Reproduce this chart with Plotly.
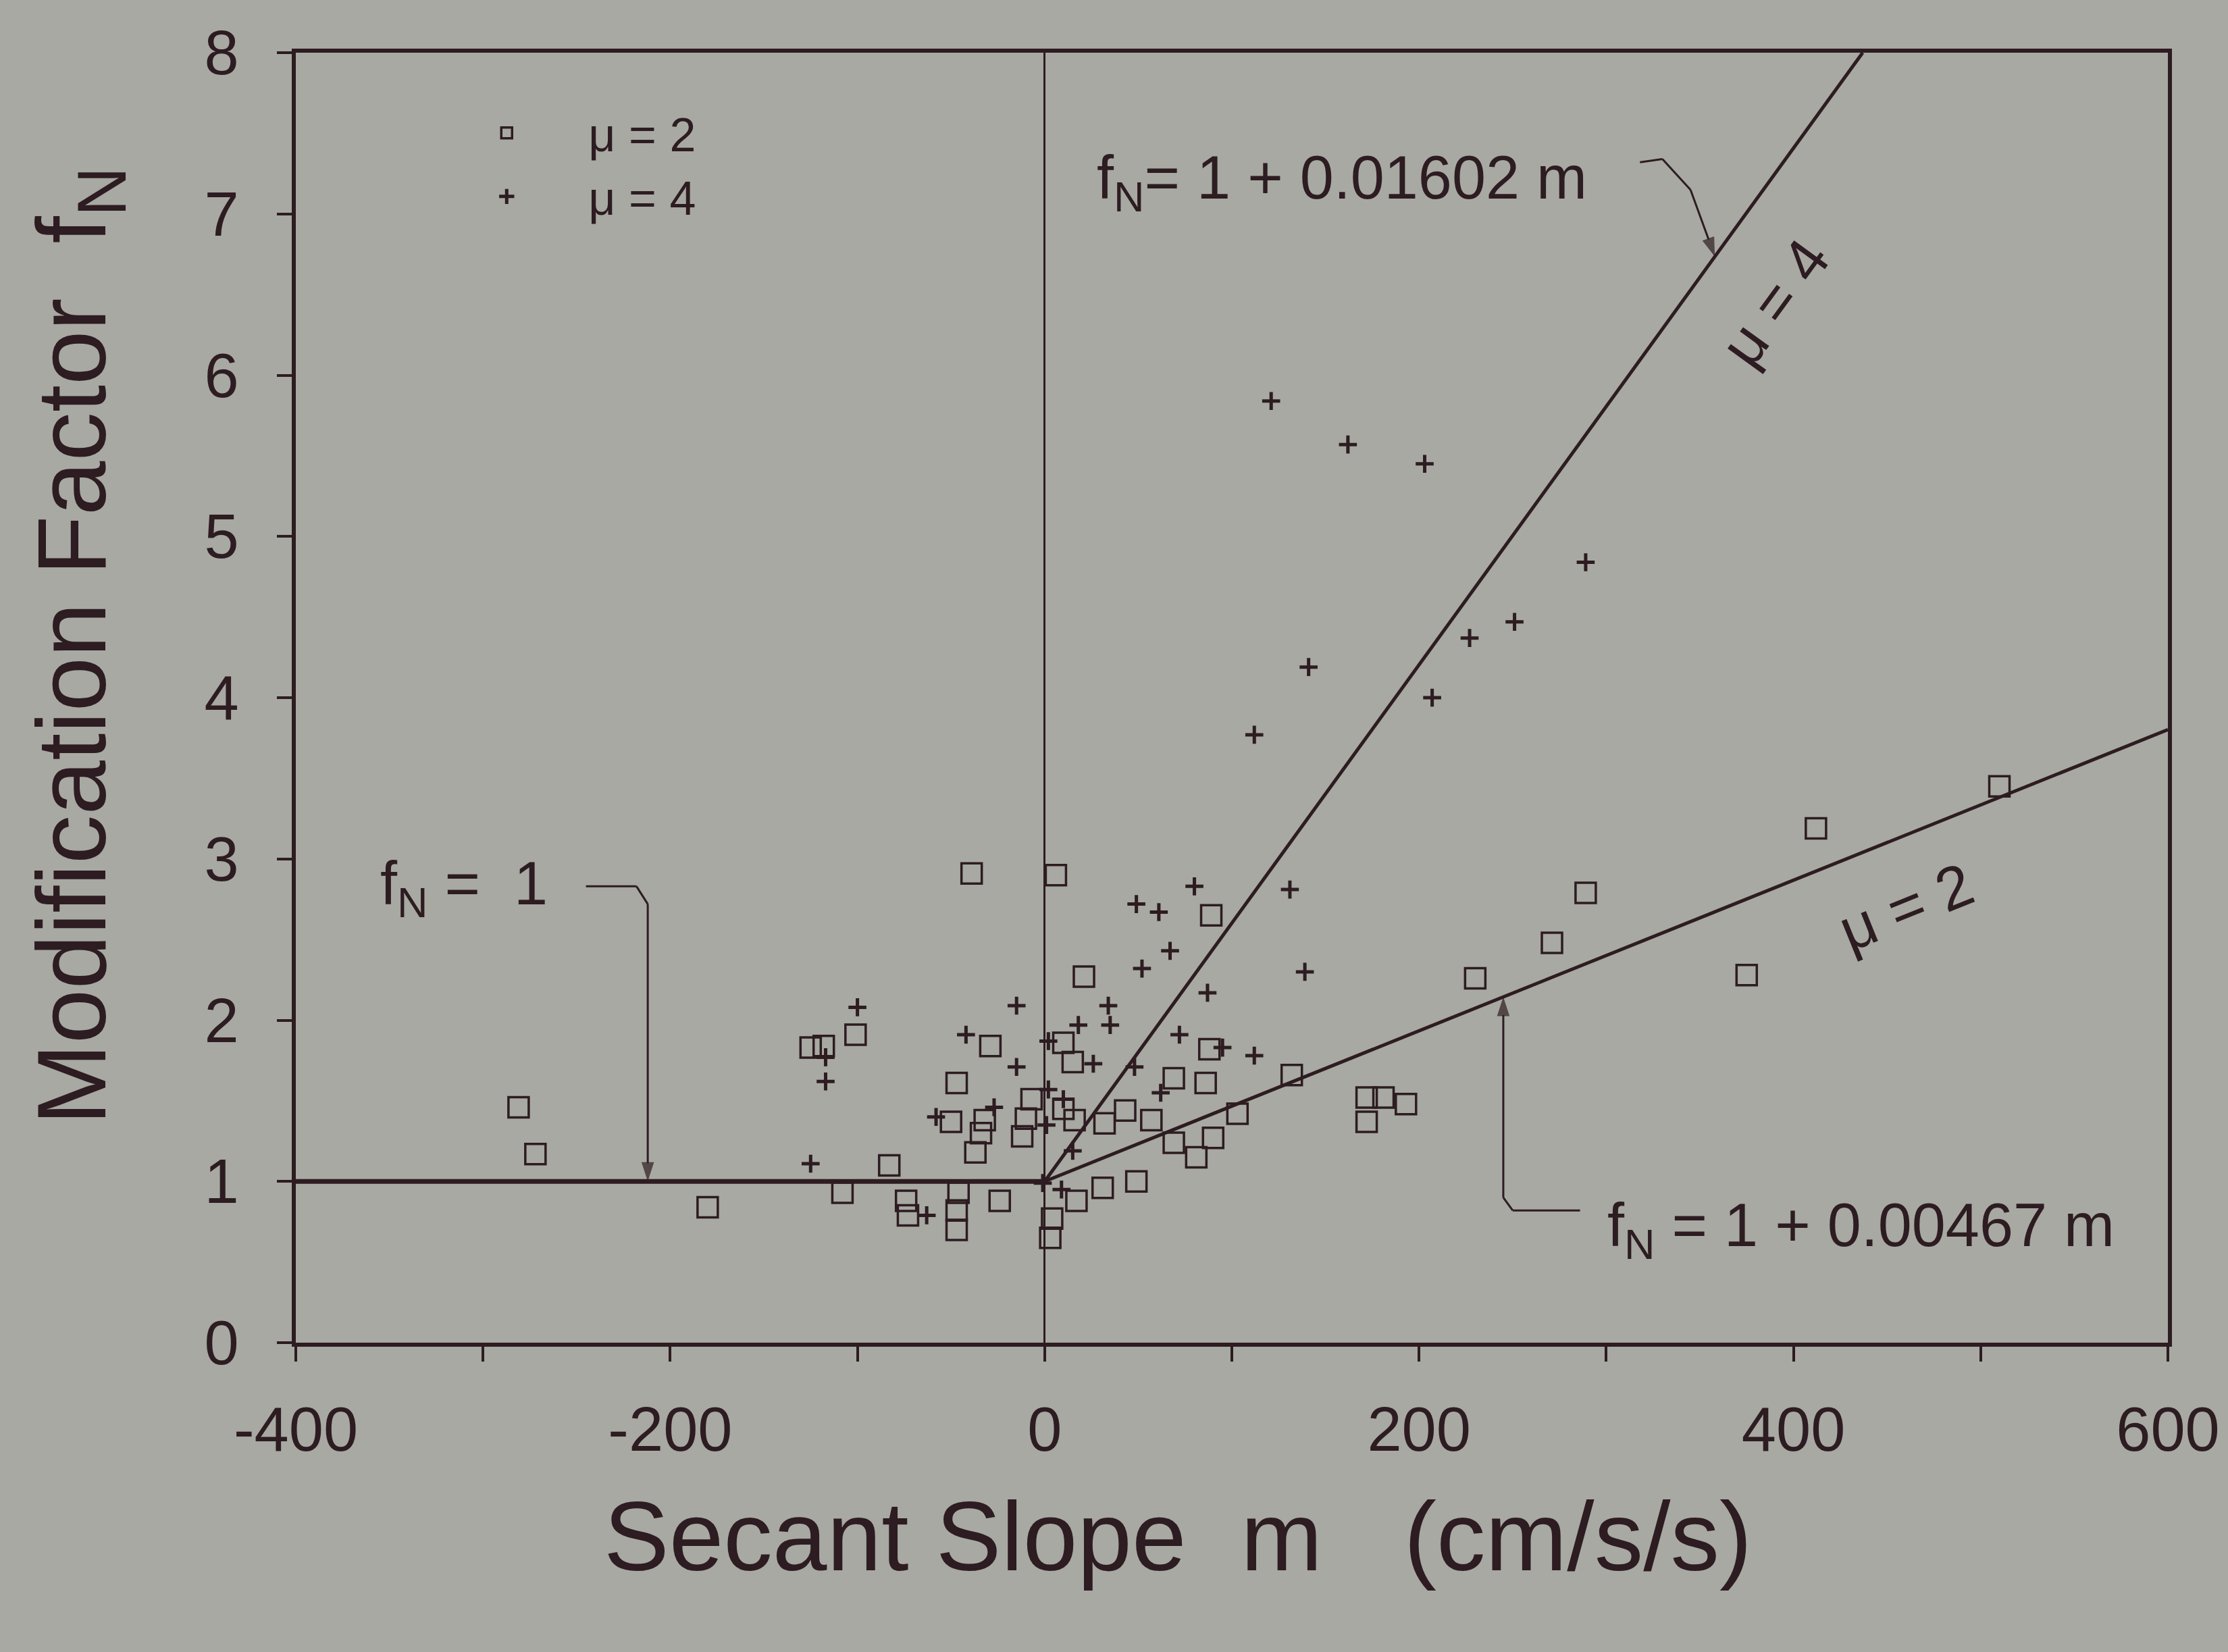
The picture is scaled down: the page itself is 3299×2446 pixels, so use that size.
import plotly.graph_objects as go

# ---------------- data ----------------
# mu = 2 (open squares): secant slope m (cm/s/s), modification factor fN
mu2_m = [-281, -272, -180, -125, -118, -101, -108, -83, -74, -73,
         -46, -47, -47, -47, -50, -32, -10, -37, -39, -29,
         6, 21, 89, 10, 15, 16, 32, 43, 57, 69,
         86, 88, 103, 90, 81, 69, 132, -12, -7, -34,
         10, -24, 4, 3, 17, 31, 49, 172, 181, 172,
         193, 230, 271, 289, 375, 412, 510]
mu2_f = [1.46, 1.17, 0.84, 1.83, 1.84, 1.91, 0.93, 1.10, 0.88, 0.79,
         0.93, 0.82, 0.70, 1.61, 1.37, 1.38, 1.39, 1.18, 2.91, 1.84,
         2.90, 2.27, 2.65, 1.86, 1.74, 1.38, 1.36, 1.44, 1.38, 1.64,
         1.61, 1.82, 1.42, 1.27, 1.15, 1.24, 1.66, 1.28, 1.51, 1.30,
         1.45, 0.88, 0.77, 0.65, 0.88, 0.96, 1.00, 1.52, 1.52, 1.37,
         1.48, 2.26, 2.48, 2.79, 2.28, 3.19, 3.45]

# mu = 4 (plus signs)
mu4_m = [121, 162, 203, 289, 141, 251, 227, 207, 112, 131,
         139, 80, 49, 61, 67, 52, 87, -15, 34, 35,
         18, -42, 72, -100, -117, -117, -15, 112, 95, -125,
         -58, -63, 2, 2, 10, 26, 48, 62, -27, 1,
         -1, 9, 15]
mu4_f = [5.84, 5.57, 5.45, 4.84, 4.19, 4.47, 4.37, 4.00, 3.77, 2.81,
         2.30, 2.83, 2.72, 2.67, 2.43, 2.32, 2.17, 2.09, 2.09, 1.97,
         1.97, 1.91, 1.91, 2.08, 1.77, 1.62, 1.71, 1.78, 1.83, 1.11,
         1.40, 0.79, 1.87, 1.57, 1.51, 1.73, 1.71, 1.55, 1.46, 1.35,
         0.99, 0.95, 1.19]

# fitted relations shown on the chart: fN = 1 + c * m
coef_mu4 = 0.01602
coef_mu2 = 0.00467

x_range = [-400, 600]
y_range = [0, 8]
x_tick_vals = [-400, -200, 0, 200, 400, 600]
x_tick_text = ["-400", "-200", "0", "200", "400", "600"]
x_minor_step = 100
y_tick_vals = [0, 1, 2, 3, 4, 5, 6, 7, 8]
y_tick_text = ["0", "1", "2", "3", "4", "5", "6", "7", "8"]

# ---------------- styling ----------------
INK = "#2d1c21"
BG = "#a7a9a2"
FONT = "Liberation Sans, Arial, sans-serif"
NB = "\u00a0"

fig = go.Figure()

# fitted / reference lines
flat_m = [x_range[0], 0]
flat_f = [1, 1]
fig.add_trace(go.Scatter(x=flat_m, y=flat_f, mode="lines",
                         line=dict(color=INK, width=7), showlegend=False, hoverinfo="skip"))

m4_end = (y_range[1] - 1) / coef_mu4
line4_m = [0, m4_end]
line4_f = [1 + coef_mu4 * v for v in line4_m]
fig.add_trace(go.Scatter(x=line4_m, y=line4_f, mode="lines",
                         line=dict(color=INK, width=5), showlegend=False, hoverinfo="skip"))

line2_m = [0, x_range[1]]
line2_f = [1 + coef_mu2 * v for v in line2_m]
fig.add_trace(go.Scatter(x=line2_m, y=line2_f, mode="lines",
                         line=dict(color=INK, width=5), showlegend=False, hoverinfo="skip"))

# data
fig.add_trace(go.Scatter(x=mu2_m, y=mu2_f, mode="markers", name="\u03bc = 2",
                         marker=dict(symbol="square-open", size=30, color=INK,
                                     line=dict(color=INK, width=3.5))))
fig.add_trace(go.Scatter(x=mu4_m, y=mu4_f, mode="markers", name="\u03bc = 4",
                         marker=dict(symbol="cross-thin", size=19, color=INK,
                                     line=dict(color=INK, width=5))))

# leader lines with arrow heads pointing at the fitted lines
leaders = [
    ([-245, -218, -212, -212], [2.83, 2.83, 2.72, 1.0]),
    ([318, 330, 345, 358], [7.32, 7.34, 7.15, 1 + coef_mu4 * 358]),
    ([286, 250, 245, 245], [0.82, 0.82, 0.9, 1 + coef_mu2 * 245]),
]
for lm, lf in leaders:
    sizes = [0] * (len(lm) - 1) + [30]
    fig.add_trace(go.Scatter(x=lm, y=lf, mode="lines+markers",
                             line=dict(color=INK, width=3),
                             marker=dict(symbol="arrow", size=sizes, angleref="previous",
                                         color=INK, line=dict(width=0)),
                             showlegend=False, hoverinfo="skip"))

lab_font = dict(family=FONT, size=90, color=INK)
annotations = [
    dict(x=-310, y=2.82, xref="x", yref="y", text=f"f<sub>N</sub>{NB}={NB}{NB}1",
         showarrow=False, font=lab_font, xanchor="center", yanchor="middle"),
    dict(x=27, y=7.2, xref="x", yref="y", text=f"f<sub>N</sub>={NB}1{NB}+{NB}0.01602{NB}m",
         showarrow=False, font=lab_font, xanchor="left", yanchor="middle"),
    dict(x=300, y=0.70, xref="x", yref="y", text=f"f<sub>N</sub>{NB}={NB}1{NB}+{NB}0.00467{NB}m",
         showarrow=False, font=lab_font, xanchor="left", yanchor="middle"),
    dict(x=390, y=6.45, xref="x", yref="y", text=f"\u03bc{NB}={NB}4", textangle=-54,
         showarrow=False, font=lab_font, xanchor="center", yanchor="middle"),
    dict(x=460, y=2.70, xref="x", yref="y", text=f"\u03bc{NB}={NB}2", textangle=-22,
         showarrow=False, font=lab_font, xanchor="center", yanchor="middle"),
    # axis titles
    dict(x=0.471, y=-0.15, xref="paper", yref="paper",
         text=f"Secant Slope{NB}{NB}m{NB}{NB}{NB}(cm/s/s)", showarrow=False,
         font=dict(family=FONT, size=145, color=INK), xanchor="center", yanchor="middle"),
    dict(x=-0.116, y=0.54, xref="paper", yref="paper", textangle=-90,
         text=f"Modification Factor{NB}{NB}f<sub>N</sub>", showarrow=False,
         font=dict(family=FONT, size=145, color=INK), xanchor="center", yanchor="middle"),
]

axis_common = dict(showline=True, linecolor=INK, linewidth=6, mirror=True,
                   ticks="outside", ticklen=22, tickwidth=4, tickcolor=INK,
                   showgrid=False, tickfont=dict(family=FONT, size=92, color=INK))

fig.update_layout(
    width=3299, height=2446,
    margin=dict(l=438, r=84, t=78, b=458),
    paper_bgcolor=BG, plot_bgcolor=BG,
    font=dict(family=FONT, color=INK),
    xaxis=dict(range=x_range, tickmode="array", tickvals=x_tick_vals, ticktext=x_tick_text,
               minor=dict(dtick=x_minor_step, tick0=x_range[0], ticks="outside", ticklen=22,
                          tickwidth=4, tickcolor=INK, showgrid=False),
               zeroline=True, zerolinecolor=INK, zerolinewidth=3, ticklabelstandoff=22,
               **axis_common),
    yaxis=dict(range=y_range, tickmode="array", tickvals=y_tick_vals, ticktext=y_tick_text,
               zeroline=False, ticklabelstandoff=38, **axis_common),
    legend=dict(x=0.069, y=0.965, xanchor="left", yanchor="top", bgcolor="rgba(0,0,0,0)",
                font=dict(family=FONT, size=70, color=INK), itemwidth=232,
                tracegroupgap=0),
    annotations=annotations,
    showlegend=True,
)

fig.write_html("out.html")
